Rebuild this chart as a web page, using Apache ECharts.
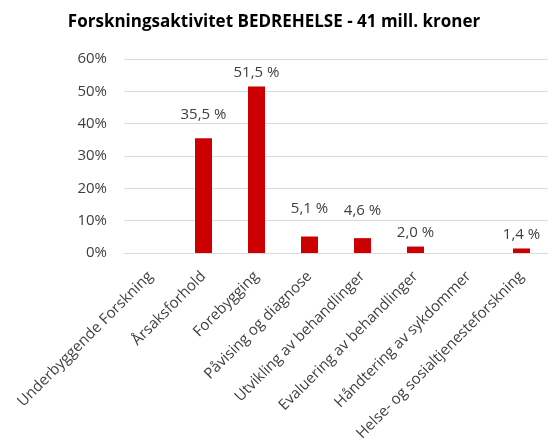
<!DOCTYPE html>
<html>
<head>
<meta charset="utf-8">
<script src="https://cdn.jsdelivr.net/npm/echarts@6/dist/echarts.min.js"></script>
<style>
  html, body { margin: 0; padding: 0; background: #fff; }
  #chart { width: 548px; height: 447px; }
</style>
</head>
<body>
<div id="chart"></div>
<script>
// kategorier og andeler (prosent)
var categories = [
    'Underbyggende Forskning',
    'Årsaksforhold',
    'Forebygging',
    'Påvising og diagnose',
    'Utvikling av behandlinger',
    'Evaluering av behandlinger',
    'Håndtering av sykdommer',
    'Helse- og sosialtjenesteforskning'
];
var values = [0, 35.5, 51.5, 5.1, 4.6, 2.0, 0, 1.4];
var yTicks = [0, 10, 20, 30, 40, 50, 60];

// etikettene er flyttet litt for hånd i originalen
var labelShift = [0, -4, 6, -8, -8, 6, 0, 6];

var font = 'Open Sans';

var myChart = echarts.init(document.getElementById('chart'));

var barData = values.map(function (v, i) {
    return { value: v, label: { offset: [0, labelShift[i]] } };
});

var option = {
    animation: false,
    title: {
        text: 'Forskningsaktivitet BEDREHELSE - 41 mill. kroner',
        left: 'center',
        top: 9,
        textStyle: {
            fontFamily: font,
            fontSize: 17,
            fontWeight: 'bold',
            color: '#000'
        }
    },
    grid: {
        left: 124,
        right: -5,
        top: 59,
        bottom: 194
    },
    xAxis: {
        type: 'category',
        data: categories,
        axisLine: { lineStyle: { color: '#D9D9D9' } },
        axisTick: { show: false },
        axisLabel: {
            rotate: 45,
            interval: 0,
            margin: 21,
            fontFamily: font,
            fontSize: 15,
            color: '#404040'
        }
    },
    yAxis: {
        type: 'value',
        min: yTicks[0],
        max: yTicks[yTicks.length - 1],
        interval: 10,
        axisLine: { show: false },
        axisTick: { show: false },
        splitLine: { lineStyle: { color: '#D9D9D9' } },
        axisLabel: {
            formatter: '{value}%',
            margin: 17,
            fontFamily: font,
            fontSize: 15,
            color: '#404040'
        }
    },
    series: [
        {
            type: 'bar',
            data: barData,
            barWidth: 17,
            itemStyle: { color: '#CC0000' },
            label: {
                show: true,
                position: 'top',
                distance: 12,
                fontFamily: font,
                fontSize: 15,
                color: '#404040',
                formatter: function (p) {
                    if (!p.value) return '';
                    return p.value.toFixed(1).replace('.', ',') + ' %';
                }
            }
        }
    ]
};

myChart.setOption(option);
</script>
</body>
</html>
